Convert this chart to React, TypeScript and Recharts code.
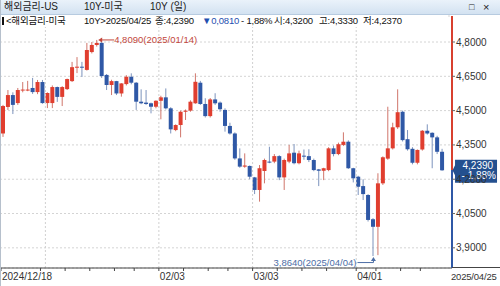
import React from 'react'
import {
  ComposedChart,
  Bar,
  XAxis,
  YAxis,
  CartesianGrid,
  ReferenceLine,
  ReferenceDot,
} from 'recharts'

// daily candles, 해외금리 미국 10Y
const dates = [
  '2024/12/18', '2024/12/19', '2024/12/20', '2024/12/23', '2024/12/24', '2024/12/25', '2024/12/26', '2024/12/27', '2024/12/30', '2024/12/31',
  '2025/01/01', '2025/01/02', '2025/01/03', '2025/01/06', '2025/01/07', '2025/01/08', '2025/01/09', '2025/01/10', '2025/01/13', '2025/01/14',
  '2025/01/15', '2025/01/16', '2025/01/17', '2025/01/21', '2025/01/22', '2025/01/23', '2025/01/24', '2025/01/27', '2025/01/28', '2025/01/29',
  '2025/01/30', '2025/01/31', '2025/02/03', '2025/02/04', '2025/02/05', '2025/02/06', '2025/02/07', '2025/02/10', '2025/02/11', '2025/02/12',
  '2025/02/13', '2025/02/14', '2025/02/18', '2025/02/19', '2025/02/20', '2025/02/21', '2025/02/24', '2025/02/25', '2025/02/26', '2025/02/27',
  '2025/02/28', '2025/03/03', '2025/03/04', '2025/03/05', '2025/03/06', '2025/03/07', '2025/03/10', '2025/03/11', '2025/03/12', '2025/03/13',
  '2025/03/14', '2025/03/17', '2025/03/18', '2025/03/19', '2025/03/20', '2025/03/21', '2025/03/24', '2025/03/25', '2025/03/26', '2025/03/27',
  '2025/03/28', '2025/03/31', '2025/04/01', '2025/04/02', '2025/04/03', '2025/04/04', '2025/04/07', '2025/04/08', '2025/04/09', '2025/04/10',
  '2025/04/11', '2025/04/14', '2025/04/15', '2025/04/16', '2025/04/17', '2025/04/21', '2025/04/22', '2025/04/23', '2025/04/24', '2025/04/25',
]

const opens = [
  4.400, 4.516, 4.568, 4.533, 4.588, 4.590, 4.599, 4.581, 4.625, 4.533,
  4.533, 4.603, 4.560, 4.594, 4.629, 4.688, 4.692, 4.678, 4.756, 4.787,
  4.796, 4.656, 4.612, 4.629, 4.575, 4.616, 4.648, 4.622, 4.539, 4.535,
  4.532, 4.517, 4.543, 4.558, 4.510, 4.415, 4.437, 4.495, 4.500, 4.532,
  4.622, 4.529, 4.476, 4.549, 4.535, 4.503, 4.433, 4.400, 4.291, 4.255,
  4.258, 4.208, 4.153, 4.236, 4.277, 4.277, 4.301, 4.208, 4.277, 4.316,
  4.270, 4.303, 4.301, 4.284, 4.243, 4.237, 4.240, 4.335, 4.310, 4.350,
  4.364, 4.248, 4.211, 4.170, 4.131, 4.025, 3.992, 4.182, 4.290, 4.335,
  4.427, 4.495, 4.375, 4.333, 4.272, 4.330, 4.412, 4.403, 4.383, 4.320,
]

const highs = [
  4.525, 4.590, 4.580, 4.599, 4.625, 4.630, 4.643, 4.634, 4.634, 4.580,
  4.610, 4.605, 4.607, 4.640, 4.713, 4.734, 4.713, 4.796, 4.800, 4.809,
  4.800, 4.660, 4.635, 4.630, 4.620, 4.655, 4.663, 4.625, 4.593, 4.590,
  4.535, 4.545, 4.565, 4.597, 4.515, 4.440, 4.500, 4.505, 4.545, 4.663,
  4.630, 4.554, 4.555, 4.576, 4.540, 4.510, 4.447, 4.405, 4.335, 4.313,
  4.260, 4.210, 4.262, 4.290, 4.342, 4.310, 4.305, 4.290, 4.350, 4.354,
  4.325, 4.330, 4.331, 4.290, 4.245, 4.250, 4.340, 4.347, 4.360, 4.405,
  4.370, 4.250, 4.215, 4.200, 4.135, 4.030, 4.226, 4.300, 4.517, 4.447,
  4.593, 4.500, 4.415, 4.340, 4.330, 4.415, 4.440, 4.405, 4.390, 4.333,
]

const lows = [
  4.385, 4.503, 4.485, 4.525, 4.580, 4.585, 4.573, 4.572, 4.530, 4.511,
  4.511, 4.538, 4.520, 4.590, 4.625, 4.664, 4.647, 4.675, 4.750, 4.780,
  4.643, 4.590, 4.568, 4.568, 4.561, 4.610, 4.615, 4.503, 4.528, 4.525,
  4.488, 4.510, 4.462, 4.505, 4.400, 4.410, 4.383, 4.459, 4.495, 4.530,
  4.525, 4.470, 4.470, 4.525, 4.495, 4.408, 4.395, 4.285, 4.250, 4.250,
  4.200, 4.135, 4.102, 4.182, 4.270, 4.270, 4.196, 4.153, 4.270, 4.265,
  4.265, 4.285, 4.275, 4.235, 4.170, 4.196, 4.235, 4.300, 4.305, 4.345,
  4.245, 4.186, 4.131, 4.109, 4.015, 3.864, 3.868, 4.175, 4.285, 4.330,
  4.420, 4.365, 4.325, 4.265, 4.265, 4.325, 4.395, 4.248, 4.310, 4.237,
]

const closes = [
  4.520, 4.568, 4.525, 4.590, 4.592, 4.592, 4.581, 4.625, 4.533, 4.577,
  4.603, 4.560, 4.603, 4.638, 4.690, 4.692, 4.688, 4.765, 4.787, 4.796,
  4.651, 4.612, 4.629, 4.575, 4.619, 4.648, 4.622, 4.539, 4.532, 4.529,
  4.517, 4.543, 4.558, 4.510, 4.418, 4.437, 4.495, 4.500, 4.539, 4.626,
  4.529, 4.476, 4.549, 4.532, 4.506, 4.433, 4.400, 4.291, 4.255, 4.260,
  4.211, 4.153, 4.248, 4.284, 4.275, 4.301, 4.208, 4.284, 4.313, 4.270,
  4.313, 4.299, 4.284, 4.240, 4.237, 4.248, 4.335, 4.310, 4.353, 4.364,
  4.248, 4.204, 4.167, 4.135, 4.022, 3.992, 4.182, 4.296, 4.335, 4.427,
  4.493, 4.371, 4.331, 4.272, 4.328, 4.412, 4.400, 4.383, 4.320, 4.239,
]

const yTicks = [3.9, 4.05, 4.2, 4.35, 4.5, 4.65, 4.8]
const weekTicks = [
  '2024/12/18', '2024/12/30', '2025/01/06', '2025/01/13', '2025/01/21', '2025/01/27',
  '2025/02/03', '2025/02/10', '2025/02/18', '2025/02/24', '2025/03/03', '2025/03/10',
  '2025/03/17', '2025/03/24', '2025/04/01', '2025/04/07', '2025/04/14', '2025/04/21',
]
const labelDates = ['2024/12/18', '2025/02/03', '2025/03/03', '2025/04/01']
const labelTexts = ['2024/12/18', '02/03', '03/03', '04/01']
const gridDates = ['2024/12/31', '2025/02/03', '2025/03/03', '2025/04/01']

const UP = '#e03e2f'
const DOWN = '#2f58a6'
const UP_WICK = '#d0766b'
const DOWN_WICK = '#7c93bd'
const HI_COLOR = '#c2473c'
const LO_COLOR = '#4d6ea6'
const FONT = "'Liberation Sans', 'Noto Sans CJK KR', sans-serif"

const Y_MIN = 3.8118
const Y_MAX = 4.9137
const PLOT_TOP = 16
const PLOT_BOTTOM = 268
const HALF_BAND = 2.47

const data = dates.map((date, i) => ({
  date,
  open: opens[i],
  high: highs[i],
  low: lows[i],
  close: closes[i],
  range: [lows[i], highs[i]],
}))

const last = data.length - 1
const hiIdx = highs.indexOf(Math.max(...highs))
const loIdx = lows.indexOf(Math.min(...lows))
const change = closes[last] - closes[last - 1]
const pct = (change / closes[last - 1]) * 100
const priceFrac = (Y_MAX - closes[last]) / (Y_MAX - Y_MIN)

const fmt = (v: number, d = 4) => v.toFixed(d).replace('.', ',')

function Candle(props: any) {
  const { x, y, width, height, payload } = props
  if (!payload) return null
  const top = Math.min(y, y + height)
  const h = Math.abs(height)
  const { open, close, high, low } = payload
  const k = high > low ? h / (high - low) : 0
  const yo = top + (high - open) * k
  const yc = top + (high - close) * k
  const up = close >= open
  const bodyTop = Math.min(yo, yc)
  const bodyH = Math.max(Math.abs(yc - yo), 1)
  const cx = x + width / 2
  return (
    <g>
      <line x1={cx} x2={cx} y1={top} y2={top + h} stroke={up ? UP_WICK : DOWN_WICK} strokeWidth={1} />
      <rect x={x} y={bodyTop} width={width} height={bodyH} fill={up ? UP : DOWN} />
    </g>
  )
}

function DateTick(props: any) {
  const { x, y, payload } = props
  const left = x - HALF_BAND
  const li = labelDates.indexOf(payload.value)
  return (
    <g>
      <line x1={left} x2={left} y1={y} y2={y + 3} stroke="#444" />
      {li >= 0 && (
        <text x={left + 1} y={y + 12} textAnchor="start" fontSize={10} fill="#333" fontFamily={FONT}>
          {labelTexts[li]}
        </text>
      )}
    </g>
  )
}

function HighMark(props: any) {
  const { cx, cy } = props
  return (
    <g>
      <path d={`M${cx + 1},${cy} l4,-2.5 v5 z`} fill={HI_COLOR} />
      <line x1={cx + 4} x2={cx + 17} y1={cy} y2={cy} stroke={HI_COLOR} />
      <text x={cx + 17} y={cy + 3.5} fontSize={9.5} fill={HI_COLOR} fontFamily={FONT}>
        {`${fmt(highs[hiIdx])}(${dates[hiIdx]})`}
      </text>
    </g>
  )
}

function LowMark(props: any) {
  const { cx, cy } = props
  return (
    <g>
      <path d={`M${cx},${cy + 1} l-2.5,4 h5 z`} fill={LO_COLOR} />
      <polyline points={`${cx},${cy + 4} ${cx},${cy + 6.5} ${cx - 16},${cy + 6.5}`} fill="none" stroke={LO_COLOR} />
      <text x={cx - 17} y={cy + 10} textAnchor="end" fontSize={9.5} fill={LO_COLOR} fontFamily={FONT}>
        {`${fmt(lows[loIdx])}(${dates[loIdx]})`}
      </text>
    </g>
  )
}

function PriceTag(props: any) {
  const { cx, cy } = props
  const l = cx + 12.5
  const r = cx + 54.5
  return (
    <g>
      <path
        d={`M${cx + 10},${cy} L${l},${cy - 5} V${cy - 10.5} H${r} V${cy + 12.5} H${l} V${cy + 5} Z`}
        fill="#24508f"
      />
      <text x={cx + 20} y={cy - 1.5} fontSize={10} fill="#fff" fontFamily={FONT}>
        {fmt(closes[last])}
      </text>
      <text x={cx + 19} y={cy + 9} fontSize={10} fill="#fff" fontFamily={FONT}>
        {`- ${fmt(Math.abs(pct), 2)}%`}
      </text>
    </g>
  )
}

const infoParts: [string, number, string][] = [
  ['<해외금리-미국', 6, '#111'],
  [`10Y>${dates[last]}`, 84, '#111'],
  [`종:${fmt(closes[last])}`, 155, '#111'],
  [`▼${fmt(Math.abs(change))}`, 202, '#1f4fb0'],
  [`- ${fmt(Math.abs(pct), 2)}%`, 241, '#111'],
  [`시:${fmt(opens[last])}`, 274, '#111'],
  [`고:${fmt(highs[last])}`, 319, '#111'],
  [`저:${fmt(lows[last])}`, 363, '#111'],
]

export default function App() {
  return (
    <div style={{ position: 'absolute', left: 0, top: 0, width: 500, height: 286, background: '#fff', overflow: 'hidden' }}>
      <ComposedChart
        width={500}
        height={286}
        data={data}
        margin={{ top: PLOT_TOP, right: 0, bottom: 0, left: 0 }}
        barCategoryGap={0}
      >
        <defs>
          <linearGradient id="axisGrad" gradientUnits="userSpaceOnUse" x1="0" y1={PLOT_TOP} x2="0" y2={PLOT_BOTTOM}>
            <stop offset={0} stopColor="#d8402f" />
            <stop offset={priceFrac} stopColor="#d8402f" />
            <stop offset={priceFrac} stopColor="#2f58a6" />
            <stop offset={1} stopColor="#2f58a6" />
          </linearGradient>
        </defs>
        <CartesianGrid vertical={false} stroke="#d4d4d4" strokeDasharray="2 2" />
        {gridDates.map(d => (
          <ReferenceLine key={d} x={d} position="start" stroke="#d0d0d0" strokeDasharray="2 2" />
        ))}
        <XAxis
          dataKey="date"
          height={18}
          padding={{ left: 1, right: 7 }}
          ticks={weekTicks}
          interval={0}
          tick={<DateTick />}
          tickLine={false}
          tickSize={0}
          tickMargin={0}
          axisLine={{ stroke: '#444' }}
        />
        <YAxis
          orientation="right"
          width={48}
          type="number"
          domain={[Y_MIN, Y_MAX]}
          allowDataOverflow
          ticks={yTicks}
          tickFormatter={(v: number) => fmt(v)}
          axisLine={{ stroke: 'url(#axisGrad)', strokeWidth: 2 }}
          tickLine={{ stroke: '#666' }}
          tickSize={3}
          tickMargin={1}
          tick={{ fontSize: 10, fill: '#333', fontFamily: FONT, textAnchor: 'start' }}
        />
        <Bar dataKey="range" barSize={4} shape={<Candle />} isAnimationActive={false} />
        <ReferenceDot x={dates[hiIdx]} y={highs[hiIdx]} r={0} shape={<HighMark />} />
        <ReferenceDot x={dates[loIdx]} y={lows[loIdx]} r={0} shape={<LowMark />} />
        <ReferenceDot x={dates[last]} y={closes[last]} r={0} shape={<PriceTag />} />
      </ComposedChart>

      {/* title bar */}
      <div
        style={{
          position: 'absolute', left: 0, top: 0, width: 500, height: 14,
          background: 'linear-gradient(#eaf2fa, #d3e2f1)', borderBottom: '1px solid #b7cbe0',
          fontFamily: FONT, fontSize: 10, color: '#222', lineHeight: '14px', whiteSpace: 'pre',
        }}
      >
        <span style={{ position: 'absolute', left: 4 }}>해외금리-US</span>
        <span style={{ position: 'absolute', left: 84 }}>10Y-미국</span>
        <span style={{ position: 'absolute', left: 150 }}>10Y (일)</span>
        <span style={{ position: 'absolute', left: 469, fontSize: 9 }}>□</span>
        <span style={{ position: 'absolute', left: 483, fontSize: 11 }}>×</span>
      </div>

      {/* info line */}
      <div
        style={{
          position: 'absolute', left: 0, top: 15, width: 448, height: 12, background: '#fff',
          fontFamily: FONT, fontSize: 9.5, lineHeight: '12px', whiteSpace: 'pre', letterSpacing: -0.2,
        }}
      >
        <div style={{ position: 'absolute', left: 2, top: 2, width: 2, height: 8, background: '#111' }} />
        {infoParts.map(([t, l, c]) => (
          <span key={l} style={{ position: 'absolute', left: l, color: c }}>{t}</span>
        ))}
      </div>

      {/* bottom right date box */}
      <div style={{ position: 'absolute', left: 452, top: 267, width: 48, height: 1, background: '#444' }} />
      <div
        style={{
          position: 'absolute', left: 451, top: 271, fontFamily: FONT, fontSize: 9.5, color: '#333',
          letterSpacing: -0.2,
        }}
      >
        {dates[last]}
      </div>
      <div style={{ position: 'absolute', left: 0, top: 0, width: 1, height: 286, background: '#b6c0cc' }} />
    </div>
  )
}
